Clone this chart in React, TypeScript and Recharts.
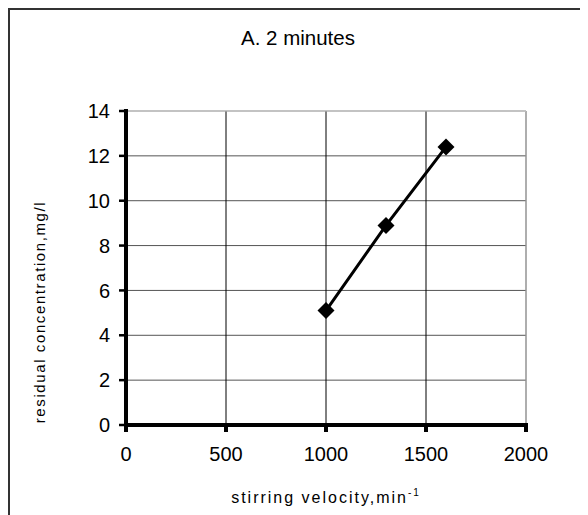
import {
  LineChart,
  Line,
  XAxis,
  YAxis,
  CartesianGrid,
  ReferenceLine,
  Label,
} from 'recharts'

// ── Data ──────────────────────────────────────────────────────────────────────

const velocity = [1000, 1300, 1600]
const concentration = [5.1, 8.9, 12.4]
const xTicks = [0, 500, 1000, 1500, 2000]
const yTicks = [0, 2, 4, 6, 8, 10, 12, 14]

const data = velocity.map((v, i) => ({ x: v, y: concentration[i] }))

// ── Layout / style ────────────────────────────────────────────────────────────

const FONT = '"Liberation Sans", Arial, sans-serif'
const W = 580
const H = 507
const M = { top: 103, right: 62, left: 58, bottom: 30 }
const Y_AXIS_W = 60
const X_AXIS_H = 60
const PLOT_LEFT = M.left + Y_AXIS_W
const PLOT_BOTTOM = H - M.bottom - X_AXIS_H
const AXIS_W = 4

function Diamond(props: any) {
  const { cx, cy, index } = props
  const r = 8.5
  return (
    <path
      key={`d-${index}`}
      d={`M${cx},${cy - r}L${cx + r},${cy}L${cx},${cy + r}L${cx - r},${cy}Z`}
      fill="#000"
    />
  )
}

// tick mark + label drawn together so the mark is heavy like the original
function XTick(props: any) {
  const { x, payload } = props
  return (
    <g>
      <rect x={x - 2} y={PLOT_BOTTOM} width={4} height={7} fill="#000" />
      <text x={x} y={PLOT_BOTTOM + 22} dy="0.71em" textAnchor="middle" fontFamily={FONT} fontSize={20} fill="#000">
        {payload.value}
      </text>
    </g>
  )
}

function YTick(props: any) {
  const { y, payload } = props
  return (
    <g>
      <rect x={PLOT_LEFT - 7} y={y - 1.25} width={7} height={2.5} fill="#000" />
      <text x={PLOT_LEFT - 16} y={y} dy="0.355em" textAnchor="end" fontFamily={FONT} fontSize={20} fill="#000">
        {payload.value}
      </text>
    </g>
  )
}

function XTitle() {
  return (
    <text x={318} y={495} textAnchor="middle" fontFamily={FONT} fontSize={16} letterSpacing={2} fill="#000">
      stirring velocity,min
      <tspan fontSize={10} dy={-7}>-1</tspan>
    </text>
  )
}

function YTitle() {
  return (
    <text
      x={37}
      y={304}
      transform="rotate(-90, 37, 304)"
      textAnchor="middle"
      fontFamily={FONT}
      fontSize={15}
      letterSpacing={1.6}
      fill="#000"
    >
      residual concentration,mg/l
    </text>
  )
}

export default function App() {
  return (
    <div style={{ position: 'relative', width: W, height: H, fontFamily: FONT }}>
      <div
        style={{
          position: 'absolute',
          inset: 0,
          borderTop: '2px solid #333',
          borderLeft: '2px solid #333',
        }}
      />
      <div
        style={{
          position: 'absolute',
          top: 18,
          left: 0,
          width: W,
          textAlign: 'center',
          fontSize: 20.5,
          lineHeight: '24px',
          color: '#000',
        }}
      >
        A. 2 minutes
      </div>
      <LineChart
        width={W}
        height={H}
        data={data}
        margin={M}
        style={{ position: 'absolute', top: 0, left: 0 }}
      >
        <CartesianGrid horizontal vertical={false} stroke="#555" />
        <CartesianGrid horizontal={false} vertical stroke="#000" />
        <ReferenceLine y={14} stroke="#ddd" />
        <ReferenceLine x={2000} stroke="#ddd" />
        <XAxis
          type="number"
          dataKey="x"
          domain={[0, 2000]}
          ticks={xTicks}
          interval={0}
          height={X_AXIS_H}
          axisLine={{ stroke: '#000', strokeWidth: AXIS_W, strokeLinecap: 'square' }}
          tickLine={false}
          tick={<XTick />}
        >
          <Label content={<XTitle />} />
        </XAxis>
        <YAxis
          type="number"
          dataKey="y"
          domain={[0, 14]}
          ticks={yTicks}
          interval={0}
          width={Y_AXIS_W}
          axisLine={{ stroke: '#000', strokeWidth: AXIS_W, strokeLinecap: 'square' }}
          tickLine={false}
          tick={<YTick />}
        >
          <Label content={<YTitle />} />
        </YAxis>
        <Line
          type="linear"
          dataKey="y"
          stroke="#000"
          strokeWidth={3}
          dot={Diamond}
          activeDot={false}
          isAnimationActive={false}
        />
      </LineChart>
    </div>
  )
}
